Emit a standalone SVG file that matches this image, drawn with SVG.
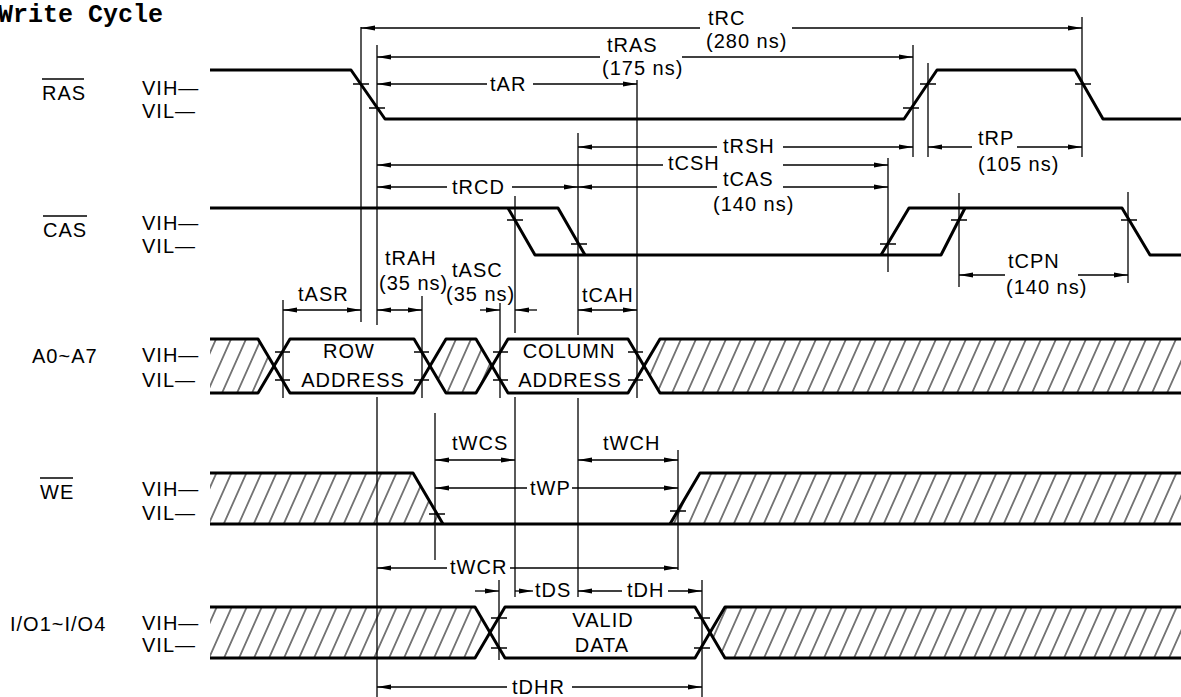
<svg xmlns="http://www.w3.org/2000/svg" width="1181" height="697" viewBox="0 0 1181 697">
<defs>
<marker id="ar" viewBox="0 0 14 6" refX="14" refY="3" markerWidth="14" markerHeight="6" markerUnits="userSpaceOnUse" orient="auto-start-reverse">
<path d="M0,0.4 L14,3 L0,5.6 Z" fill="#000"/>
</marker>
<pattern id="h" width="15" height="60" patternUnits="userSpaceOnUse" patternTransform="skewX(-24)">
<line x1="7" y1="-1" x2="7" y2="61" stroke="#000" stroke-width="1.1"/>
</pattern>
</defs>
<style>
text{font-family:"Liberation Sans",Arial,sans-serif;font-size:20px;fill:#000;letter-spacing:1px}
.title{font-family:"Liberation Mono","Courier New",monospace;font-size:25px;font-weight:bold;letter-spacing:0}
.sig{fill:none;stroke:#000;stroke-width:3;stroke-linejoin:round}
.hat{fill:url(#h);stroke:none}
.tk{stroke:#000;stroke-width:1.5}
.v{stroke:#000;stroke-width:1.3}
.d{stroke:#000;stroke-width:1.3;fill:none}
.m{text-anchor:middle}
.ov{stroke:#000;stroke-width:1.5}
</style>
<rect width="1181" height="697" fill="#fff"/>
<text class="title" x="-2" y="22">Write Cycle</text>

<g id="ras">
<text x="42" y="100" letter-spacing="0.5">RAS</text>
<line class="ov" x1="42" y1="79" x2="84" y2="79"/>
<text x="142" y="95">VIH—</text>
<text x="142" y="118">VIL—</text>
<path class="sig" d="M210,70 H351 L385,119 H904 L937,70 H1075 L1103,119 H1181"/>
<line class="tk" x1="353" y1="84" x2="369" y2="84"/>
<line class="tk" x1="369" y1="108" x2="385" y2="108"/>
<line class="tk" x1="903" y1="108" x2="919" y2="108"/>
<line class="tk" x1="920" y1="84" x2="936" y2="84"/>
<line class="tk" x1="1075" y1="84" x2="1091" y2="84"/>
</g>

<g id="cas">
<text x="43" y="237" letter-spacing="0.5">CAS</text>
<line class="ov" x1="43" y1="216" x2="87" y2="216"/>
<text x="142" y="230">VIH—</text>
<text x="142" y="253">VIL—</text>
<path class="sig" d="M210,208 H558 L585,255"/>
<path class="sig" d="M508,208 L535,255 H941 L965,208"/>
<path class="sig" d="M881,255 L909,208 H1122 L1150,255 H1181"/>
<line class="tk" x1="507" y1="220" x2="523" y2="220"/>
<line class="tk" x1="571" y1="244" x2="587" y2="244"/>
<line class="tk" x1="880" y1="244" x2="896" y2="244"/>
<line class="tk" x1="951" y1="220" x2="967" y2="220"/>
<line class="tk" x1="1121" y1="220" x2="1137" y2="220"/>
</g>

<g id="addr">
<text x="32" y="363">A0~A7</text>
<text x="142" y="362">VIH—</text>
<text x="142" y="387">VIL—</text>
<polygon class="hat" points="210,339 258,339 274,366 258,393 210,393"/>
<polygon class="hat" points="430,366 446,339 476,339 492,366 476,393 446,393"/>
<polygon class="hat" points="644,366 660,339 1181,339 1181,393 660,393"/>
<path class="sig" d="M210,339 H258 L290,393 H414 L446,339 H476 L508,393 H628 L660,339 H1181"/>
<path class="sig" d="M210,393 H258 L290,339 H414 L446,393 H476 L508,339 H628 L660,393 H1181"/>
<line class="tk" x1="275" y1="352" x2="290" y2="352"/>
<line class="tk" x1="275" y1="380" x2="290" y2="380"/>
<line class="tk" x1="414" y1="352" x2="429" y2="352"/>
<line class="tk" x1="414" y1="380" x2="429" y2="380"/>
<line class="tk" x1="493" y1="352" x2="508" y2="352"/>
<line class="tk" x1="493" y1="380" x2="508" y2="380"/>
<line class="tk" x1="628" y1="352" x2="643" y2="352"/>
<line class="tk" x1="628" y1="380" x2="643" y2="380"/>
<text class="m" x="349" y="358">ROW</text>
<text class="m" x="353" y="387">ADDRESS</text>
<text class="m" x="569" y="358">COLUMN</text>
<text class="m" x="570" y="387">ADDRESS</text>
</g>

<g id="we">
<text x="40" y="499" letter-spacing="0.5">WE</text>
<line class="ov" x1="40" y1="478" x2="73" y2="478"/>
<text x="142" y="496">VIH—</text>
<text x="142" y="520">VIL—</text>
<polygon class="hat" points="210,473 413,473 443,524 210,524"/>
<polygon class="hat" points="670,524 700,473 1181,473 1181,524"/>
<path class="sig" d="M210,473 H413 L443,524"/>
<path class="sig" d="M210,524 H1181"/>
<path class="sig" d="M670,524 L700,473 H1181"/>
<line class="tk" x1="429" y1="514" x2="445" y2="514"/>
<line class="tk" x1="670" y1="511" x2="686" y2="511"/>
</g>

<g id="io">
<text x="10" y="631">I/O1~I/O4</text>
<text x="142" y="630">VIH—</text>
<text x="142" y="652">VIL—</text>
<polygon class="hat" points="210,607 475,607 490,632.5 475,658 210,658"/>
<polygon class="hat" points="710,632.5 725,607 1181,607 1181,658 725,658"/>
<path class="sig" d="M210,607 H475 L505,658 H695 L725,607 H1181"/>
<path class="sig" d="M210,658 H475 L505,607 H695 L725,658 H1181"/>
<line class="tk" x1="491" y1="618" x2="507" y2="618"/>
<line class="tk" x1="491" y1="648" x2="507" y2="648"/>
<line class="tk" x1="694" y1="618" x2="710" y2="618"/>
<line class="tk" x1="694" y1="648" x2="710" y2="648"/>
<text class="m" x="603" y="627">VALID</text>
<text class="m" x="602" y="652">DATA</text>
</g>

<g id="connectors">
<line class="v" x1="361" y1="27" x2="361" y2="322"/>
<line class="v" x1="377" y1="45" x2="377" y2="325"/>
<line class="v" x1="377" y1="397" x2="377" y2="697"/>
<line class="v" x1="637" y1="80" x2="637" y2="398"/>
<line class="v" x1="578" y1="133" x2="578" y2="335"/>
<line class="v" x1="578" y1="398" x2="578" y2="597"/>
<line class="v" x1="515" y1="196" x2="515" y2="333"/>
<line class="v" x1="515" y1="397" x2="515" y2="597"/>
<line class="v" x1="913" y1="45" x2="913" y2="157"/>
<line class="v" x1="928" y1="63" x2="928" y2="157"/>
<line class="v" x1="1082" y1="17" x2="1082" y2="157"/>
<line class="v" x1="888" y1="158" x2="888" y2="272"/>
<line class="v" x1="959" y1="193" x2="959" y2="287"/>
<line class="v" x1="1128" y1="192" x2="1128" y2="283"/>
<line class="v" x1="283" y1="300" x2="283" y2="398"/>
<line class="v" x1="422" y1="296" x2="422" y2="398"/>
<line class="v" x1="500" y1="303" x2="500" y2="398"/>
<line class="v" x1="435" y1="413" x2="435" y2="560"/>
<line class="v" x1="678" y1="450" x2="678" y2="570"/>
<line class="v" x1="499" y1="580" x2="499" y2="660"/>
<line class="v" x1="702" y1="580" x2="702" y2="697"/>

<line class="d" x1="700" y1="28" x2="361" y2="28" marker-end="url(#ar)"/>
<line class="d" x1="792" y1="28" x2="1082" y2="28" marker-end="url(#ar)"/>
<line class="d" x1="600" y1="57" x2="377" y2="57" marker-end="url(#ar)"/>
<line class="d" x1="682" y1="57" x2="913" y2="57" marker-end="url(#ar)"/>
<line class="d" x1="487" y1="84" x2="377" y2="84" marker-end="url(#ar)"/>
<line class="d" x1="533" y1="84" x2="637" y2="84" marker-end="url(#ar)"/>
<line class="d" x1="717" y1="147" x2="578" y2="147" marker-end="url(#ar)"/>
<line class="d" x1="783" y1="147" x2="913" y2="147" marker-end="url(#ar)"/>
<line class="d" x1="972" y1="147" x2="928" y2="147" marker-end="url(#ar)"/>
<line class="d" x1="1017" y1="147" x2="1082" y2="147" marker-end="url(#ar)"/>
<line class="d" x1="663" y1="165" x2="377" y2="165" marker-end="url(#ar)"/>
<line class="d" x1="783" y1="165" x2="888" y2="165" marker-end="url(#ar)"/>
<line class="d" x1="717" y1="187" x2="578" y2="187" marker-end="url(#ar)"/>
<line class="d" x1="783" y1="187" x2="888" y2="187" marker-end="url(#ar)"/>
<line class="d" x1="447" y1="187" x2="377" y2="187" marker-end="url(#ar)"/>
<line class="d" x1="512" y1="187" x2="578" y2="187" marker-end="url(#ar)"/>
<line class="d" x1="1005" y1="275" x2="959" y2="275" marker-end="url(#ar)"/>
<line class="d" x1="1078" y1="275" x2="1128" y2="275" marker-end="url(#ar)"/>
<line class="d" x1="283" y1="310" x2="361" y2="310" marker-start="url(#ar)" marker-end="url(#ar)"/>
<line class="d" x1="377" y1="310" x2="422" y2="310" marker-start="url(#ar)" marker-end="url(#ar)"/>
<line class="d" x1="480" y1="310" x2="500" y2="310" marker-end="url(#ar)"/>
<line class="d" x1="537" y1="310" x2="515" y2="310" marker-end="url(#ar)"/>
<line class="d" x1="578" y1="310" x2="637" y2="310" marker-start="url(#ar)" marker-end="url(#ar)"/>
<line class="d" x1="435" y1="460" x2="515" y2="460" marker-start="url(#ar)" marker-end="url(#ar)"/>
<line class="d" x1="578" y1="460" x2="678" y2="460" marker-start="url(#ar)" marker-end="url(#ar)"/>
<line class="d" x1="527" y1="488" x2="435" y2="488" marker-end="url(#ar)"/>
<line class="d" x1="572" y1="488" x2="678" y2="488" marker-end="url(#ar)"/>
<line class="d" x1="447" y1="568" x2="377" y2="568" marker-end="url(#ar)"/>
<line class="d" x1="510" y1="568" x2="678" y2="568" marker-end="url(#ar)"/>
<line class="d" x1="475" y1="591" x2="499" y2="591" marker-end="url(#ar)"/>
<line class="d" x1="515" y1="591" x2="533" y2="591" marker-end="url(#ar)"/>
<line class="d" x1="622" y1="591" x2="578" y2="591" marker-end="url(#ar)"/>
<line class="d" x1="668" y1="591" x2="702" y2="591" marker-end="url(#ar)"/>
<line class="d" x1="507" y1="687" x2="377" y2="687" marker-end="url(#ar)"/>
<line class="d" x1="572" y1="687" x2="702" y2="687" marker-end="url(#ar)"/>
</g>

<g id="labels">
<text x="708" y="25">tRC</text>
<text x="706" y="48">(280 ns)</text>
<text x="607" y="52">tRAS</text>
<text x="602" y="75">(175 ns)</text>
<text x="490" y="91">tAR</text>
<text x="723" y="153">tRSH</text>
<text x="668" y="170">tCSH</text>
<text x="723" y="186">tCAS</text>
<text x="713" y="211">(140 ns)</text>
<text x="452" y="194">tRCD</text>
<text x="978" y="145">tRP</text>
<text x="978" y="171">(105 ns)</text>
<text x="1008" y="268">tCPN</text>
<text x="1006" y="294">(140 ns)</text>
<text x="298" y="301">tASR</text>
<text x="385" y="265">tRAH</text>
<text x="379" y="290">(35 ns)</text>
<text x="452" y="277">tASC</text>
<text x="446" y="301">(35 ns)</text>
<text x="582" y="302">tCAH</text>
<text x="452" y="450">tWCS</text>
<text x="603" y="450">tWCH</text>
<text x="530" y="495">tWP</text>
<text x="450" y="574">tWCR</text>
<text x="535" y="597">tDS</text>
<text x="627" y="597">tDH</text>
<text x="512" y="694">tDHR</text>
</g>
</svg>
